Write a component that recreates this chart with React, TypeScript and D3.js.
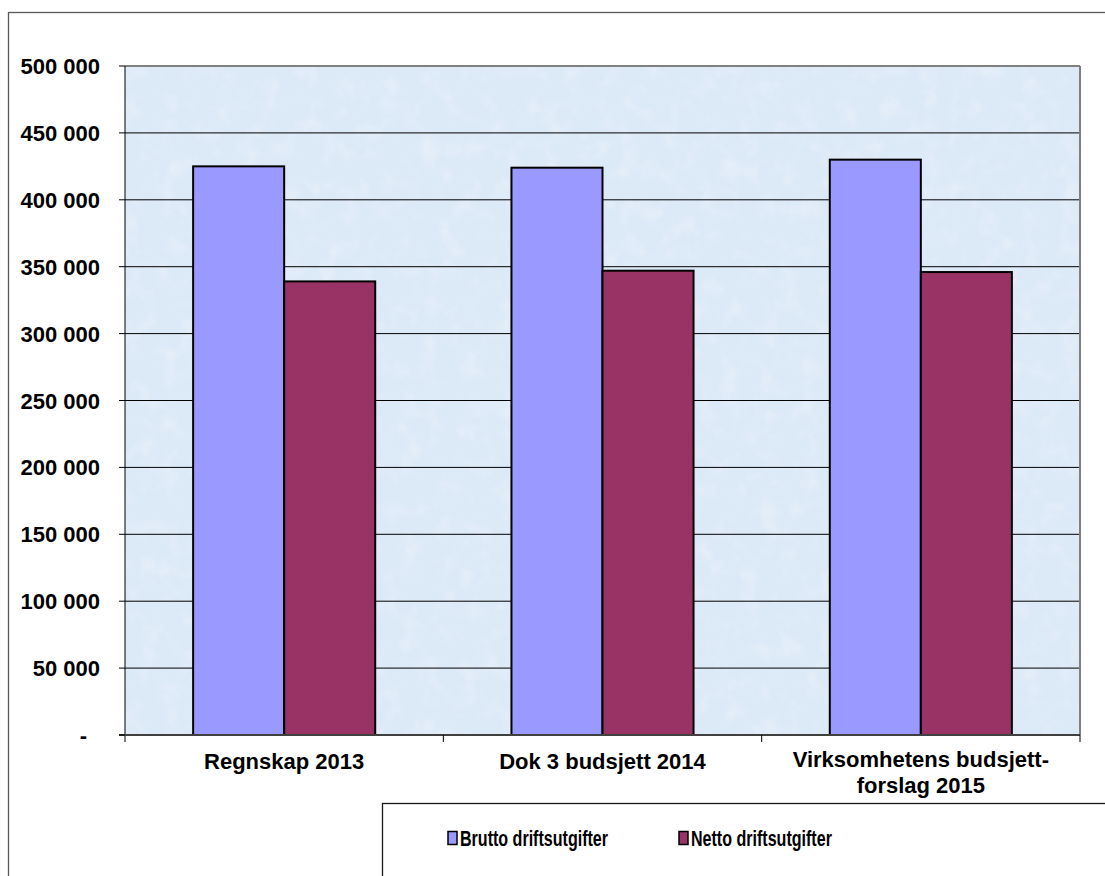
import React from "react";
import * as d3 from "d3";

const categories: string[][] = [
  ["Regnskap 2013"],
  ["Dok 3 budsjett 2014"],
  ["Virksomhetens budsjett-", "forslag 2015"],
];
const seriesNames = ["Brutto driftsutgifter", "Netto driftsutgifter"];
const brutto = [425000, 424000, 430000];
const netto = [339000, 347000, 346000];
const yTicks = [0, 50000, 100000, 150000, 200000, 250000, 300000, 350000, 400000, 450000, 500000];
const colors = ["#9999ff", "#993366"];

const W = 1105;
const H = 876;
const plot = { left: 125, right: 1080, top: 66, bottom: 735 };
const FONT = "'Liberation Sans', Arial, Helvetica, sans-serif";

function fmt(v: number): string {
  if (v === 0) return "-";
  return d3.format(",")(v).replace(/,/g, " ");
}

export default function App() {
  const y = d3.scaleLinear().domain([0, 500000]).range([plot.bottom, plot.top]);
  const x = d3
    .scaleBand<number>()
    .domain(categories.map((_, i) => i))
    .range([plot.left, plot.right])
    .padding(0);
  const step = x.step();
  const groupW = step * 0.572;
  const xs = d3
    .scaleBand<number>()
    .domain([0, 1])
    .range([0, groupW])
    .padding(0);
  const series = [brutto, netto];

  return (
    <div style={{ position: "absolute", left: 0, top: 0 }}>
      <svg width={W} height={H} style={{ display: "block", background: "#fff" }} fontFamily={FONT}>
        <defs>
          <filter id="tex" x="0" y="0" width="100%" height="100%">
            <feTurbulence type="fractalNoise" baseFrequency="0.05" numOctaves={4} seed={3} result="n" />
            <feColorMatrix
              in="n"
              type="matrix"
              values="0 0 0 0 1  0 0 0 0 1  0 0 0 0 1  1.5 0 0 0 -0.72"
            />
          </filter>
          <filter id="tex2" x="0" y="0" width="100%" height="100%">
            <feTurbulence type="fractalNoise" baseFrequency="0.08" numOctaves={3} seed={11} result="n" />
            <feColorMatrix
              in="n"
              type="matrix"
              values="0 0 0 0 0.74  0 0 0 0 0.82  0 0 0 0 0.9  1.4 0 0 0 -0.72"
            />
          </filter>
        </defs>

        {/* outer chart frame */}
        <rect x={8.5} y={12.5} width={W + 10} height={H + 10} fill="#fff" stroke="#595959" strokeWidth={1.3} />

        {/* plot background */}
        <rect x={plot.left} y={plot.top} width={plot.right - plot.left} height={plot.bottom - plot.top} fill="#dce9f7" />
        <rect x={plot.left} y={plot.top} width={plot.right - plot.left} height={plot.bottom - plot.top} filter="url(#tex2)" opacity={0.35} />
        <rect x={plot.left} y={plot.top} width={plot.right - plot.left} height={plot.bottom - plot.top} filter="url(#tex)" opacity={0.4} />

        {/* gridlines */}
        {yTicks.filter((t) => t > 0 && t < 500000).map((t) => (
          <line key={t} x1={plot.left} x2={plot.right} y1={y(t)} y2={y(t)} stroke="#000" strokeWidth={1} />
        ))}

        {/* plot border top/right */}
        <line x1={plot.left} x2={plot.right} y1={y(500000)} y2={y(500000)} stroke="#808080" strokeWidth={2} />
        <line x1={plot.right} x2={plot.right} y1={plot.top} y2={plot.bottom} stroke="#808080" strokeWidth={2} />

        {/* bars */}
        {series.map((vals, si) =>
          vals.map((v, ci) => {
            const x0 = (x(ci) as number) + (step - groupW) / 2 + (xs(si) as number);
            return (
              <rect
                key={`${si}-${ci}`}
                x={x0}
                y={y(v)}
                width={xs.bandwidth()}
                height={y(0) - y(v)}
                fill={colors[si]}
                stroke="#000"
                strokeWidth={2}
              />
            );
          })
        )}

        {/* axes */}
        <line x1={plot.left} x2={plot.left} y1={plot.top} y2={plot.bottom + 7} stroke="#000" strokeWidth={1} />
        <line x1={plot.left - 6} x2={plot.right} y1={plot.bottom} y2={plot.bottom} stroke="#404040" strokeWidth={2} />
        {yTicks.map((t) => (
          <line key={t} x1={plot.left - 6} x2={plot.left} y1={y(t)} y2={y(t)} stroke="#000" strokeWidth={1} />
        ))}
        {categories.map((_, i) => (
          <line
            key={i}
            x1={(x(i) as number) + step}
            x2={(x(i) as number) + step}
            y1={plot.bottom}
            y2={plot.bottom + 7}
            stroke="#000"
            strokeWidth={1}
          />
        ))}

        {/* y labels */}
        {yTicks.map((t) => (
          <text
            key={t}
            x={t === 0 ? 87 : 100}
            y={y(t) + 8}
            textAnchor="end"
            fontSize={22}
            fontWeight="bold"
            fill="#000"
          >
            {fmt(t)}
          </text>
        ))}

        {/* x labels */}
        {categories.map((lines, i) => {
          const cx = (x(i) as number) + step / 2;
          const y0 = lines.length > 1 ? 767 : 769;
          return (
            <text key={i} textAnchor="middle" fontSize={22} fontWeight="bold" fill="#000">
              {lines.map((l, li) => (
                <tspan key={li} x={cx} y={y0 + li * 26}>
                  {l}
                </tspan>
              ))}
            </text>
          );
        })}

        {/* legend */}
        <rect x={382.5} y={803.5} width={W} height={100} fill="#fff" stroke="#1a1a1a" strokeWidth={1.3} />
        {seriesNames.map((name, i) => {
          const lx = [448, 679][i];
          return (
            <g key={name}>
              <rect x={lx} y={831.5} width={9} height={13} fill={colors[i]} stroke="#000" strokeWidth={1.5} />
              <text
                transform={`translate(${lx + 12},846) scale(0.73,1)`}
                fontSize={22}
                fontWeight="bold"
                fill="#000"
              >
                {name}
              </text>
            </g>
          );
        })}
      </svg>
    </div>
  );
}
